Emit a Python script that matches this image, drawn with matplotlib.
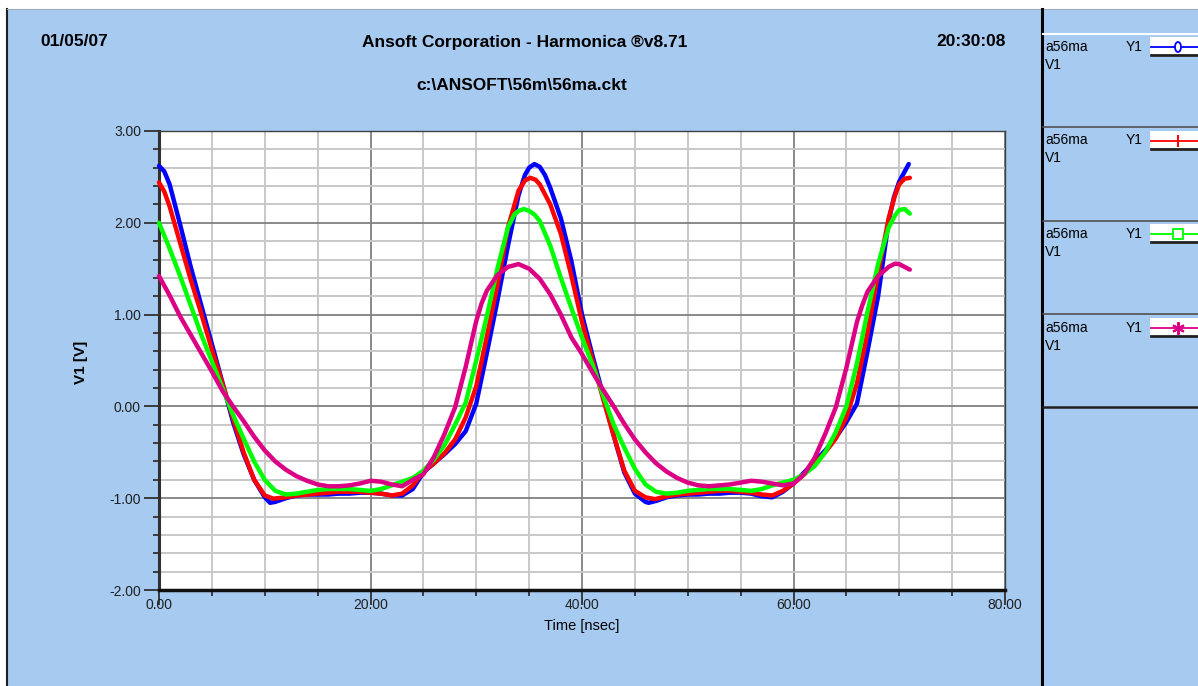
import matplotlib
matplotlib.use("Agg")
import matplotlib.pyplot as plt
from matplotlib.lines import Line2D
from matplotlib.patches import Rectangle, Ellipse
from matplotlib.ticker import MultipleLocator, FormatStrFormatter

# ---------------- data ----------------
t_blue = [0, 0.5, 1, 2, 3, 4, 5, 6, 7, 8, 9, 10, 10.5, 11, 12, 13, 14, 15, 16, 17, 18, 19, 20,
          21, 22, 23, 24, 25, 26, 27, 28, 29, 30, 31, 32, 33, 34, 34.6, 35, 35.5, 36, 36.5,
          37, 38, 39, 40, 41, 42, 43, 44, 45, 46, 46.3, 47, 48, 49, 50, 51, 52, 53, 54, 55,
          56, 57, 58, 59, 60, 61, 62, 63, 64, 65, 66, 67, 68, 69, 69.5, 70, 70.9]
v_blue = [2.62, 2.56, 2.42, 1.98, 1.52, 1.10, 0.68, 0.26, -0.17, -0.52, -0.80, -0.99, -1.05,
          -1.04, -1.00, -0.97, -0.96, -0.96, -0.96, -0.95, -0.95, -0.94, -0.94, -0.95, -0.97,
          -0.97, -0.90, -0.72, -0.62, -0.52, -0.41, -0.27, 0.03, 0.58, 1.15, 1.75, 2.30,
          2.52, 2.60, 2.64, 2.61, 2.52, 2.38, 2.05, 1.58, 1.00, 0.55, 0.12, -0.32, -0.72,
          -0.95, -1.04, -1.05, -1.03, -0.99, -0.97, -0.96, -0.96, -0.95, -0.95, -0.94, -0.94,
          -0.95, -0.98, -0.99, -0.93, -0.84, -0.72, -0.60, -0.48, -0.34, -0.17, 0.03, 0.60,
          1.20, 2.02, 2.28, 2.45, 2.64]

t_red = [0, 0.5, 1, 2, 3, 4, 5, 6, 7, 8, 9, 10, 10.8, 12, 13, 14, 15, 16, 17, 18, 19, 20, 21,
         22, 23, 24, 25, 26, 27, 28, 29, 30, 31, 32, 33, 34, 34.6, 35.1, 35.6, 36, 37, 38, 39,
         40, 41, 42, 43, 44, 45, 46, 46.9, 48, 49, 50, 51, 52, 53, 54, 55, 56, 57, 58, 59, 60,
         61, 62, 63, 64, 65, 66, 67, 68, 69, 69.6, 70, 70.5, 71]
v_red = [2.44, 2.34, 2.18, 1.78, 1.38, 1.01, 0.62, 0.25, -0.13, -0.50, -0.80, -0.97, -1.005,
         -0.99, -0.97, -0.96, -0.95, -0.94, -0.93, -0.93, -0.93, -0.94, -0.95, -0.97, -0.95,
         -0.86, -0.71, -0.62, -0.51, -0.36, -0.12, 0.22, 0.76, 1.32, 1.95, 2.35, 2.46, 2.49,
         2.47, 2.42, 2.20, 1.88, 1.42, 0.92, 0.50, 0.08, -0.32, -0.70, -0.92, -0.99, -1.01,
         -0.98, -0.96, -0.95, -0.94, -0.93, -0.92, -0.92, -0.93, -0.94, -0.96, -0.97, -0.92,
         -0.84, -0.74, -0.62, -0.50, -0.35, -0.12, 0.25, 0.80, 1.45, 2.05, 2.30, 2.42, 2.48,
         2.49]

t_green = [0, 1, 2, 3, 4, 5, 6, 7, 8, 9, 10, 11, 12, 13, 14, 15, 16, 17, 18, 19, 20, 21, 22,
           23, 24, 25, 26, 27, 28, 29, 30, 31, 32, 33, 33.6, 34, 34.5, 35, 35.5, 36, 37, 38,
           39, 40, 41, 42, 43, 44, 45, 46, 47, 48, 49, 50, 51, 52, 53, 54, 55, 56, 57, 58, 59,
           60, 61, 62, 63, 64, 65, 66, 67, 68, 69, 69.6, 70, 70.5, 71]
v_green = [2.00, 1.72, 1.42, 1.10, 0.78, 0.49, 0.20, -0.09, -0.35, -0.60, -0.80, -0.92, -0.96,
           -0.95, -0.93, -0.91, -0.90, -0.90, -0.90, -0.91, -0.92, -0.90, -0.86, -0.82, -0.78,
           -0.70, -0.58, -0.42, -0.20, 0.04, 0.50, 0.98, 1.50, 1.95, 2.09, 2.13, 2.15, 2.13,
           2.09, 2.02, 1.75, 1.40, 1.07, 0.75, 0.45, 0.12, -0.20, -0.45, -0.68, -0.85, -0.93,
           -0.95, -0.94, -0.92, -0.91, -0.90, -0.90, -0.90, -0.91, -0.92, -0.90, -0.86, -0.83,
           -0.80, -0.74, -0.65, -0.50, -0.28, 0.00, 0.47, 1.03, 1.55, 1.95, 2.08, 2.14, 2.15,
           2.10]

t_mag = [0, 1, 2, 3, 4, 5, 6, 7, 8, 9, 10, 11, 12, 13, 14, 15, 16, 17, 18, 19, 20, 21, 22, 23,
         24, 25, 26, 27, 28, 29, 30, 30.5, 31, 32, 33, 34, 35, 36, 37, 38, 39, 40, 41, 42, 43,
         44, 45, 46, 47, 48, 49, 50, 51, 52, 53, 54, 55, 56, 57, 58, 59, 60, 61, 62, 63, 64,
         65, 66, 66.5, 67, 68, 69, 69.6, 70, 71]
v_mag = [1.42, 1.21, 0.98, 0.78, 0.58, 0.38, 0.17, 0.00, -0.16, -0.33, -0.48, -0.60, -0.69,
         -0.76, -0.81, -0.85, -0.87, -0.87, -0.86, -0.84, -0.81, -0.82, -0.85, -0.87, -0.80,
         -0.74, -0.55, -0.30, -0.01, 0.43, 0.93, 1.12, 1.26, 1.43, 1.52, 1.55, 1.50, 1.39,
         1.22, 1.00, 0.75, 0.57, 0.37, 0.18, 0.00, -0.19, -0.36, -0.50, -0.62, -0.71, -0.78,
         -0.83, -0.86, -0.87, -0.86, -0.85, -0.83, -0.81, -0.82, -0.84, -0.86, -0.84, -0.74,
         -0.56, -0.30, -0.01, 0.42, 0.92, 1.10, 1.25, 1.42, 1.52, 1.555, 1.55, 1.49]

series_colors = ["#0000FF", "#FF0000", "#00FF00", "#DC0084"]
legend_names = ["a56ma", "a56ma", "a56ma", "a56ma"]

header_left = "01/05/07"
header_center = "Ansoft Corporation - Harmonica \u00aev8.71"
header_right = "20:30:08"
subtitle = "c:\\ANSOFT\\56m\\56ma.ckt"
x_label = "Time [nsec]"
y_label = "V1 [V]"

# ---------------- figure ----------------
W, H = 1198, 686
fig = plt.figure(figsize=(W / 100, H / 100), dpi=100)
fig.patch.set_facecolor("white")
BG = "#A6CAF0"

def fx(x):
    return x / W

def fy(y):
    return 1 - y / H

fig.patches.append(Rectangle((fx(7), 0), 1 - fx(7), fy(9), transform=fig.transFigure,
                             facecolor=BG, edgecolor="none", zorder=-5))
fig.lines.append(Line2D([fx(7), fx(7)], [0, fy(9)], transform=fig.transFigure,
                        color="#202020", lw=1.5, zorder=-4))
fig.lines.append(Line2D([fx(7), 1], [fy(9), fy(9)], transform=fig.transFigure,
                        color="#9AA8B8", lw=0.8, zorder=-4))
fig.lines.append(Line2D([fx(1041.5), fx(1041.5)], [0, fy(9)], transform=fig.transFigure,
                        color="black", lw=2.2, zorder=-4))

font_narrow = ["Liberation Sans Narrow", "Liberation Sans", "DejaVu Sans"]
font_reg = ["Liberation Sans", "DejaVu Sans"]

fig.text(fx(40), fy(42), header_left, family=font_narrow, weight="bold", fontsize=12.5,
         ha="left", va="center")
fig.text(fx(525), fy(42), header_center, family=font_narrow, weight="bold", fontsize=12.5,
         ha="center", va="center")
fig.text(fx(1006), fy(42), header_right, family=font_narrow, weight="bold", fontsize=12.5,
         ha="right", va="center")
fig.text(fx(522), fy(85), subtitle, family=font_narrow, weight="bold", fontsize=12.5,
         ha="center", va="center")

# ---------------- axes ----------------
ax = fig.add_axes([fx(159), fy(590), fx(1005) - fx(159), fy(131) - fy(590)])
ax.set_zorder(2)
ax.set_facecolor("white")
ax.set_xlim(0, 80)
ax.set_ylim(-2, 3)

ax.xaxis.set_major_locator(MultipleLocator(20))
ax.xaxis.set_minor_locator(MultipleLocator(5))
ax.yaxis.set_major_locator(MultipleLocator(1))
ax.yaxis.set_minor_locator(MultipleLocator(0.2))
ax.xaxis.set_major_formatter(FormatStrFormatter("%.2f"))
ax.yaxis.set_major_formatter(FormatStrFormatter("%.2f"))

ax.grid(which="minor", color="#C8C8C8", lw=1.4, zorder=0)
ax.grid(which="major", color="#808080", lw=1.3, zorder=0)
ax.set_axisbelow(True)

ax.tick_params(axis="y", which="major", length=11, width=1.3, color="#303030", pad=2,
               labelsize=10, labelcolor="#202020")
ax.tick_params(axis="y", which="minor", length=4, width=1.3, color="#303030")
ax.tick_params(axis="x", which="major", length=11, width=1.3, color="#303030", pad=-5,
               labelsize=10, labelcolor="#202020")
ax.tick_params(axis="x", which="minor", length=4, width=1.3, color="#303030")
for lab in ax.get_xticklabels() + ax.get_yticklabels():
    lab.set_family(font_reg)

ax.spines["left"].set_linewidth(2.2)
ax.spines["bottom"].set_linewidth(2.5)
ax.spines["left"].set_color("#303030")
ax.spines["bottom"].set_color("#101010")
ax.spines["top"].set_linewidth(1.0)
ax.spines["right"].set_linewidth(1.0)
ax.spines["top"].set_color("#404040")
ax.spines["right"].set_color("#404040")

series = [(t_blue, v_blue), (t_red, v_red), (t_green, v_green), (t_mag, v_mag)]
for (tt, vv), c in zip(series, series_colors):
    ax.plot(tt, vv, color=c, lw=3.2, solid_joinstyle="round", solid_capstyle="round",
            zorder=3, clip_on=False)

fig.text(fx(582), fy(626), x_label, family=font_narrow, fontsize=10.5, ha="center",
         va="center")
fig.text(fx(81), fy(362), y_label, family=font_reg, weight="bold", fontsize=11,
         rotation=90, ha="center", va="center")

# ---------------- legend panel ----------------
fig.lines.append(Line2D([fx(1043), 1], [fy(34), fy(34)], transform=fig.transFigure,
                        color="white", lw=1.5))
for ysep, lw, col in [(127, 1.2, "#505050"), (221, 1.2, "#505050"), (314, 1.2, "#505050"),
                      (407, 1.8, "#202020")]:
    fig.lines.append(Line2D([fx(1043), 1], [fy(ysep), fy(ysep)], transform=fig.transFigure,
                            color=col, lw=lw))

markers = ["ellipse", "|", "s", (6, 2, 0)]
for i, (name, c, m) in enumerate(zip(legend_names, series_colors, markers)):
    y0 = 47 + i * 93.5
    fig.text(fx(1045), fy(y0), name, family=font_reg, fontsize=10, ha="left", va="center")
    fig.text(fx(1045), fy(y0 + 18), "V1", family=font_reg, fontsize=10, ha="left",
             va="center")
    fig.text(fx(1126), fy(y0), "Y1", family=font_reg, fontsize=10, ha="left", va="center")
    fig.patches.append(Rectangle((fx(1150), fy(y0 + 10)), 1 - fx(1150), fy(y0 - 10) - fy(y0 + 10),
                                 transform=fig.transFigure, facecolor="white",
                                 edgecolor="none", zorder=1))
    fig.lines.append(Line2D([fx(1151), 1], [fy(y0), fy(y0)], transform=fig.transFigure,
                            color=c, lw=1.3, zorder=2))
    fig.lines.append(Line2D([fx(1151), 1], [fy(y0 + 8), fy(y0 + 8)], transform=fig.transFigure,
                            color="#202020", lw=2.0, zorder=2))
    xm = fx(1178)
    if m == "ellipse":
        fig.patches.append(Ellipse((xm, fy(y0)), 6 / W, 10 / H, transform=fig.transFigure,
                                   facecolor="white", edgecolor=c, lw=1.3, zorder=3))
    elif m == "s":
        fig.lines.append(Line2D([xm], [fy(y0)], transform=fig.transFigure, marker="s",
                                markersize=7, markerfacecolor="white", markeredgecolor=c,
                                markeredgewidth=1.3, zorder=3))
    else:
        fig.lines.append(Line2D([xm], [fy(y0)], transform=fig.transFigure, marker=m,
                                markersize=9, color=c, markeredgewidth=1.5, zorder=3))

fig.savefig("out.png", dpi=100, facecolor=fig.get_facecolor())
